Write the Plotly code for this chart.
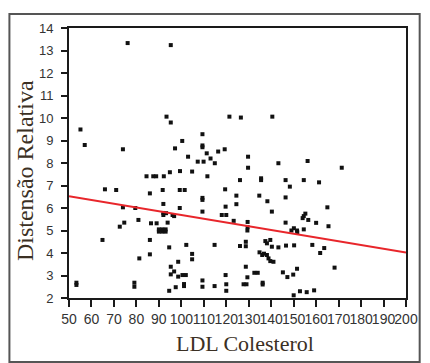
import plotly.graph_objects as go

# scatter data (LDL Colesterol, Distensão Relativa)
ldl = [76.1, 95.3, 93.4, 95.3, 121.4, 126.5, 140.5, 55.1, 57.0, 74.0,
       109.4, 100.4, 109.4, 109.4, 97.2, 111.3, 116.4, 119.3, 103.0, 113.0,
       107.3, 109.9, 114.9, 129.7, 129.7, 143.2, 156.2, 171.4, 84.5, 87.5,
       88.8, 92.2, 94.9, 99.4, 104.8, 111.6, 126.1, 135.5, 135.5, 146.4,
       154.5, 161.3, 148.3, 66.0, 71.0, 86.0, 91.7, 99.3, 101.5, 119.5,
       124.5, 134.7, 138.3, 146.4, 109.4, 109.4, 92.0, 119.7, 124.5, 99.3,
       74.0, 165.0, 80.9, 92.0, 92.0, 96.1, 93.9, 86.5, 89.0, 72.6,
       74.6, 90.0, 91.5, 93.0, 90.0, 91.5, 93.0, 64.9, 86.0, 94.6,
       86.0, 81.3, 53.3, 53.3, 79.1, 79.1, 95.3, 95.3, 96.8, 97.5,
       94.6, 98.6, 98.6, 100.5, 102.0, 101.2, 101.2, 102.2, 104.8, 104.8,
       109.4, 109.4, 114.8, 114.8, 120.0, 118.0, 123.3, 129.5, 129.5, 129.4,
       140.3, 109.4, 126.1, 128.7, 128.7, 128.7, 139.6, 136.0, 138.1, 138.8,
       141.0, 132.5, 134.0, 119.7, 129.4, 120.0, 127.7, 129.0, 136.2, 136.2,
       120.0, 138.1, 139.6, 137.4, 140.3, 143.2, 146.6, 150.2, 158.3, 163.6,
       161.8, 134.8, 136.8, 145.2, 147.2, 149.8, 151.5, 168.2, 152.8, 155.8,
       159.1, 150.0, 146.4, 154.5, 155.2, 154.0, 156.5, 160.0, 165.5, 154.5,
       150.1, 151.5, 149.0, 151.6, 79.5, 96.8, 93.2]
dist = [13.33, 13.24, 10.06, 9.80, 10.06, 10.02, 10.06, 9.49, 8.80, 8.61,
        9.28, 8.98, 8.70, 8.78, 8.65, 8.43, 8.51, 8.61, 8.28, 8.20,
        8.06, 8.06, 7.99, 8.28, 7.79, 7.99, 8.09, 7.79, 7.41, 7.41,
        7.41, 7.41, 7.59, 7.64, 7.62, 7.41, 7.24, 7.24, 7.32, 7.24,
        7.24, 7.14, 6.95, 6.83, 6.80, 6.65, 6.80, 6.80, 6.80, 6.83,
        6.55, 6.55, 6.30, 6.47, 6.36, 6.45, 6.18, 6.06, 6.17, 6.00,
        6.03, 6.03, 5.47, 5.69, 5.78, 5.69, 5.35, 5.32, 5.32, 5.17,
        5.35, 4.95, 4.95, 4.95, 5.05, 5.05, 5.05, 4.58, 4.58, 4.25,
        3.94, 3.76, 2.58, 2.68, 2.50, 2.68, 3.39, 3.05, 3.18, 2.48,
        2.32, 3.61, 2.95, 3.02, 3.02, 2.53, 2.62, 4.36, 3.96, 3.72,
        2.50, 2.78, 4.36, 2.53, 5.69, 5.69, 5.43, 5.38, 5.15, 5.00,
        5.84, 5.84, 4.31, 4.50, 4.30, 3.39, 3.64, 3.91, 3.91, 3.76,
        3.61, 3.12, 3.12, 3.02, 2.92, 2.61, 2.61, 2.61, 2.60, 2.68,
        2.32, 4.43, 4.58, 4.53, 4.28, 4.25, 4.33, 4.34, 4.36, 4.22,
        4.00, 4.03, 3.97, 3.14, 2.93, 3.04, 3.30, 3.35, 2.30, 2.26,
        2.34, 2.12, 5.35, 5.64, 5.75, 5.55, 5.47, 5.34, 5.19, 5.05,
        5.10, 5.00, 5.00, 4.92, 6.00, 5.64, 5.77]

# regression line end points
reg_x = [50, 200]
reg_y = [6.52, 4.02]

x_ticks = list(range(50, 201, 10))
y_ticks = list(range(2, 15))

W, H = 430, 363
L, R, T, B = 69, 16, 28, 65
pw, ph = W - L - R, H - T - B

def px(xp):
    return (xp - L) / pw

def py(yp):
    return (H - B - yp) / ph

fig = go.Figure()
fig.add_trace(go.Scatter(x=ldl, y=dist, mode="markers",
                         marker=dict(symbol="square", size=4, color="#111111",
                                     line=dict(width=0)),
                         showlegend=False, hoverinfo="skip"))
fig.add_trace(go.Scatter(x=reg_x, y=reg_y, mode="lines",
                         line=dict(color="#e8262b", width=2),
                         showlegend=False, hoverinfo="skip"))

fig.update_layout(
    width=W, height=H,
    margin=dict(l=L, r=R, t=T, b=B, pad=0),
    paper_bgcolor="white", plot_bgcolor="white",
    xaxis=dict(range=[50, 200], tickmode="array", tickvals=x_ticks,
               ticktext=[str(v) for v in x_ticks], tickangle=0,
               showgrid=False, zeroline=False,
               showline=True, linecolor="#1a1a1a", linewidth=2, mirror=True,
               ticks="outside", ticklen=7, tickwidth=1.5, tickcolor="#1a1a1a",
               tickfont=dict(family="Liberation Sans", size=14, color="#333333")),
    yaxis=dict(range=[2, 14], tickmode="array", tickvals=y_ticks,
               showgrid=False, zeroline=False,
               showline=True, linecolor="#1a1a1a", linewidth=2, mirror=True,
               ticks="outside", ticklen=6, tickwidth=1.5, tickcolor="#1a1a1a",
               ticklabelstandoff=5,
               tickfont=dict(family="Liberation Sans", size=13, color="#333333")),
    shapes=[dict(type="rect", xref="paper", yref="paper",
                 x0=px(8), x1=px(428), y0=py(362), y1=py(14),
                 line=dict(color="#555555", width=2), fillcolor="rgba(0,0,0,0)",
                 layer="below")],
    annotations=[
        dict(text="LDL Colesterol", xref="paper", yref="paper",
             x=px(249), y=py(343), showarrow=False,
             xanchor="center", yanchor="middle",
             font=dict(family="Liberation Serif", size=22, color="#3b3024")),
        dict(text="Distensão Relativa", xref="paper", yref="paper",
             x=px(24), y=py(171), showarrow=False, textangle=-90,
             xanchor="center", yanchor="middle",
             font=dict(family="Liberation Serif", size=24, color="#3b3024")),
    ],
)

fig.write_html("out.html")
